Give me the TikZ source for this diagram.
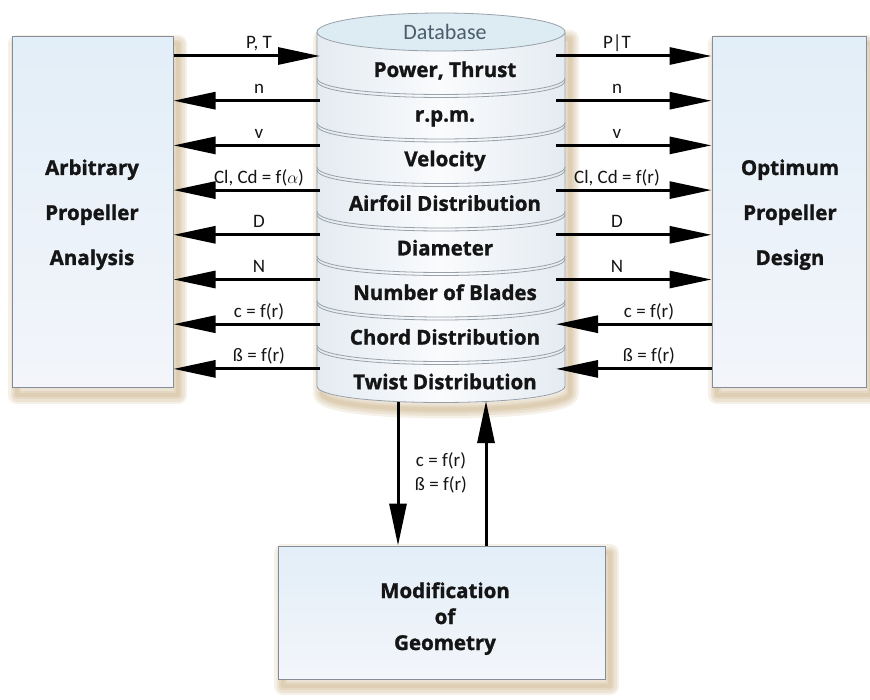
\documentclass[tikz,border=0pt]{standalone}
\usepackage{fontspec}
\setmainfont{Open Sans}[BoldFeatures={FakeBold=1.3}]
\newfontfamily\lblfont{Carlito}
\usetikzlibrary{arrows.meta,calc}

\definecolor{boxedge}{HTML}{858E98}
\definecolor{boxtop}{HTML}{E2EEF8}
\definecolor{boxbot}{HTML}{F3F5FA}
\definecolor{shadowtan}{HTML}{B08A4A}
\definecolor{dbtop}{HTML}{DDEBF3}
\definecolor{dbside}{HTML}{E4EBF1}
\definecolor{dbmid}{HTML}{FAFBFD}
\definecolor{dbline}{HTML}{98A1A9}
\definecolor{dbtext}{HTML}{4C5C6C}
\definecolor{ink}{HTML}{151515}

% soft tan halo drawn behind a shape, offset down and to the right
\newcommand\tanhalo[1]{%
  \begin{scope}[shift={(5,7)}]
    \foreach \w in {18,13,8,4}{%
      \draw[shadowtan, draw opacity=0.12, line width=\w pt, line join=round] #1;}
  \end{scope}}

\begin{document}
\begin{tikzpicture}[x=1pt,y=-1pt,
  panel/.style={draw=boxedge, line width=1pt, top color=boxtop,
      bottom color=boxbot, inner sep=0pt},
  divider/.style={draw=dbline, line width=0.8pt},
  conn/.style={draw=black, line width=3pt,
      -{Triangle[length=42pt,width=17pt]}},
  bold/.style={font=\bfseries\fontsize{20.5}{24}\selectfont, text=ink,
      anchor=base, inner sep=0pt},
  lbl/.style={font=\lblfont\fontsize{19}{22}\selectfont, text=ink,
      anchor=base, inner sep=0pt}]

\useasboundingbox (0,0) rectangle (870,700);
\fill[white] (0,0) rectangle (870,700);

% shadows
\tanhalo{(12,37) rectangle (173,388)}
\tanhalo{(712,37) rectangle (866,388)}
\tanhalo{(278,546) rectangle (605,679)}
\tanhalo{(317,32) -- (317,386) .. controls (317,408) and (565,408) .. (565,386) -- (565,32) -- cycle}

% side and bottom panels
\node[panel, minimum width=161pt, minimum height=351pt] (arb) at (92.5,212.5) {};
\node[panel, minimum width=154pt, minimum height=351pt] (opt) at (789,212.5) {};
\node[panel, minimum width=327pt, minimum height=133pt] (geom) at (441.5,612.5) {};

\node[bold] (arb1) at (92,175) {Arbitrary};
\node[bold] (arb2) at (92,220) {Propeller};
\node[bold] (arb3) at (92,265) {Analysis};
\node[bold] (opt1) at (790,175) {Optimum};
\node[bold] (opt2) at (790,220) {Propeller};
\node[bold] (opt3) at (790,265) {Design};
\node[bold] (geo1) at (445,598) {Modification};
\node[bold] (geo2) at (445,624) {of};
\node[bold] (geo3) at (445,650) {Geometry};

% database cylinder
\path[left color=dbside, right color=dbside, middle color=dbmid]
  (317,32) -- (317,386) .. controls (317,408) and (565,408) .. (565,386)
  -- (565,32) -- cycle;
\draw[divider] (317,32) -- (317,386) .. controls (317,408) and (565,408) .. (565,386)
  -- (565,32);
\foreach \k in {0,...,6}{
  \pgfmathsetmacro\ys{78+44.5*\k}
  \draw[divider] (317,\ys) .. controls (317,\ys+22) and (565,\ys+22) .. (565,\ys);
  \draw[divider] (317,\ys+3) .. controls (317,\ys+25) and (565,\ys+25) .. (565,\ys+3);
}
\filldraw[draw=dbline, line width=0.8pt, fill=dbtop]
  (441,32) ellipse [x radius=124pt, y radius=19pt];
\node[font=\lblfont\fontsize{22}{24}\selectfont, text=dbtext, anchor=base,
  inner sep=0pt] (dbhead) at (445,40) {Database};

\foreach \k/\t in {1/{Power, Thrust},2/{r.p.m.},3/Velocity,
    4/{Airfoil Distribution},5/Diameter,6/{Number of Blades},
    7/{Chord Distribution},8/{Twist Distribution}}
  \node[bold] (b\k) at (445,{77+44.6*(\k-1)}) {\t};

% attachment points on the cylinder sides
\foreach \k in {1,...,8}{
  \coordinate (dL\k) at (320,{56+44.7*(\k-1)});
  \coordinate (dR\k) at (556,{56+44.7*(\k-1)});
}
\coordinate (dbdown) at (398,402);
\coordinate (dbup) at (486,401);

% connectors
\draw[conn] (arb.east |- dL1) -- (dL1);
\foreach \k in {2,...,8} \draw[conn] (dL\k) -- (arb.east |- dL\k);
\foreach \k in {1,...,6} \draw[conn] (dR\k) -- (opt.west |- dR\k);
\foreach \k in {7,8} \draw[conn] (opt.west |- dR\k) -- (dR\k);
\draw[conn] (dbdown) -- (geom.north -| dbdown);
\draw[conn] (geom.north -| dbup) -- (dbup);

% connector labels
\foreach \k/\t in {1/{P, T},2/n,3/v,4/{Cl, Cd = f($\alpha$)},5/D,6/N,
    7/{c = f(r)},8/{ß = f(r)}}
  \node[lbl] (ll\k) at (259,{49+44.7*(\k-1)}) {\t};
\foreach \k/\t in {1/{P|T},2/n,3/v,4/{Cl, Cd = f(r)},5/D,6/N}
  \node[lbl] (rl\k) at (617,{49+44.7*(\k-1)}) {\t};
\foreach \k/\t in {7/{c = f(r)},8/{ß = f(r)}}
  \node[lbl] (rl\k) at (649,{49+44.7*(\k-1)}) {\t};
\node[lbl] (vl1) at (441,466) {c = f(r)};
\node[lbl] (vl2) at (441,490) {ß = f(r)};

\end{tikzpicture}
\end{document}
